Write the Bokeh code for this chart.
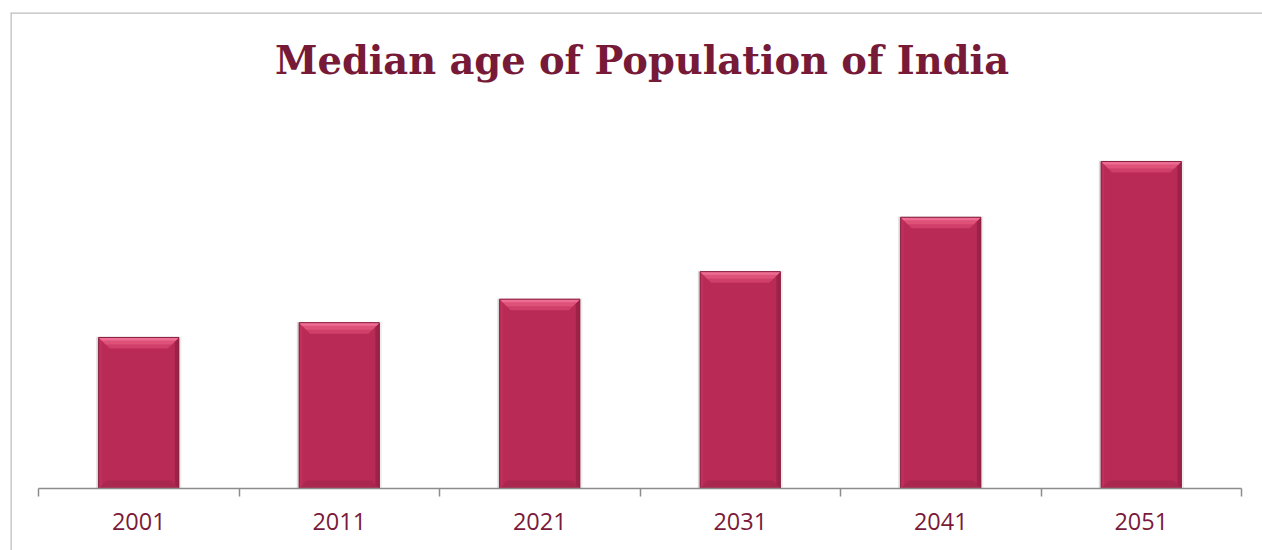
from bokeh.plotting import figure
from bokeh.models import Range1d, FixedTicker, Label, LinearAxis, CustomJSTickFormatter
from bokeh.embed import file_html
from bokeh.resources import INLINE

# ---- data ----
years = ["2001", "2011", "2021", "2031", "2041", "2051"]
median_age = [22.5, 24.7, 28.2, 32.3, 40.4, 48.7]
title_text = "Median age of Population of India"

n = len(years)
centers = [i + 0.5 for i in range(n)]
boundaries = list(range(n + 1))

# ---- layout geometry (pixels) ----
W, H = 1262, 550
BOX_L, BOX_T = 10, 12             # chart border (frame) top-left
AX_L, AX_R, AX_Y = 38, 1241, 488  # category axis extent
PX_X = (AX_R - AX_L) / n
PX_Y = 476 / 70.9
x0 = -(AX_L - BOX_L) / PX_X
x1 = n + (W - AX_R) / PX_X
y1 = (AX_Y - BOX_T) / PX_Y
y0 = -(H - AX_Y) / PX_Y

p = figure(width=W, height=H, output_backend="svg", toolbar_location=None,
           x_range=Range1d(x0, x1), y_range=Range1d(y0, y1),
           x_axis_location=None, y_axis_location=None,
           min_border_left=BOX_L, min_border_top=BOX_T,
           min_border_right=0, min_border_bottom=0)
p.outline_line_color = None
p.xgrid.visible = False
p.ygrid.visible = False
p.background_fill_color = "white"
p.border_fill_color = "white"

px_y = 1 / PX_Y
px_x = 1 / PX_X
bw = 0.4
lefts = [c - bw / 2 for c in centers]
rights = [c + bw / 2 for c in centers]


def trap_top(dpx):
    xs = [[l, r, r - dpx * px_x, l + dpx * px_x] for l, r in zip(lefts, rights)]
    ys = [[v, v, v - dpx * px_y, v - dpx * px_y] for v in median_age]
    return xs, ys


def trap_bottom(dpx):
    xs = [[l, r, r - dpx * px_x, l + dpx * px_x] for l, r in zip(lefts, rights)]
    ys = [[0, 0, dpx * px_y, dpx * px_y] for _ in median_age]
    return xs, ys


def trap_right(dpx):
    xs = [[r, r, r - dpx * px_x, r - dpx * px_x] for r in rights]
    ys = [[v, 0, dpx * px_y, v - dpx * px_y] for v in median_age]
    return xs, ys


def trap_left(dpx):
    xs = [[l, l, l + dpx * px_x, l + dpx * px_x] for l in lefts]
    ys = [[v, 0, dpx * px_y, v - dpx * px_y] for v in median_age]
    return xs, ys


# soft shadow
p.vbar(x=centers, top=[v + 1 * px_y for v in median_age],
       width=bw + 5 * px_x, bottom=0, fill_color="#9a9a9a", fill_alpha=0.18, line_color=None)
p.vbar(x=[c - 1 * px_x for c in centers], top=[v + 0.5 * px_y for v in median_age],
       width=bw + 2 * px_x, bottom=0, fill_color="#8a8a8a", fill_alpha=0.22, line_color=None)
# main bar body
p.vbar(x=centers, top=median_age, width=bw, bottom=0,
       fill_color="#B92B56", line_color=None)
# bevel faces
xs, ys = trap_bottom(8)
p.patches(xs, ys, fill_color="#AA2750", line_color=None)
xs, ys = trap_left(3)
p.patches(xs, ys, fill_color="#C0305C", line_color=None)
xs, ys = trap_right(4)
p.patches(xs, ys, fill_color="#9C2247", line_color=None)
xs, ys = trap_top(11)
p.patches(xs, ys, fill_color="#CF3F69", line_color=None)
xs, ys = trap_top(7)
p.patches(xs, ys, fill_color="#DE5179", line_color=None)
xs, ys = trap_top(3)
p.patches(xs, ys, fill_color="#EE6D92", line_color=None)
# outline
p.vbar(x=centers, top=median_age, width=bw, bottom=0,
       fill_color=None, line_color="#8A1F40", line_width=1)

# category axis at y = 0
ax = LinearAxis(fixed_location=0, bounds=(0, n),
                ticker=FixedTicker(ticks=centers, minor_ticks=boundaries),
                formatter=CustomJSTickFormatter(args=dict(labels=years),
                                                code="return labels[Math.floor(tick)];"))
ax.major_tick_line_color = None
ax.major_tick_in = 0
ax.major_tick_out = 0
ax.minor_tick_in = 0
ax.minor_tick_out = 8
ax.minor_tick_line_color = "#8c8c8c"
ax.minor_tick_line_width = 1.5
ax.axis_line_color = "#8c8c8c"
ax.axis_line_width = 1.5
ax.major_label_text_font = "Open Sans"
ax.major_label_text_font_size = "23.5px"
ax.major_label_text_color = "#7A1A3A"
ax.major_label_standoff = 16
p.add_layout(ax, "below")


# chart border (left and top edges)
def border_axis(loc):
    a = LinearAxis(fixed_location=loc, ticker=FixedTicker(ticks=[]))
    a.axis_line_color = "#bdbdbd"
    a.axis_line_width = 2.5
    a.major_tick_line_color = None
    a.minor_tick_line_color = None
    return a


p.add_layout(border_axis(x0), "left")
p.add_layout(border_axis(y1), "above")

# title
p.add_layout(Label(x=n / 2, y=63.7, text=title_text, text_align="center",
                   text_baseline="alphabetic", x_offset=2,
                   text_font="DejaVu Serif", text_font_size="38.4px",
                   text_font_style="bold", text_color="#761A38"))

open("out.html", "w").write(file_html(p, INLINE))
